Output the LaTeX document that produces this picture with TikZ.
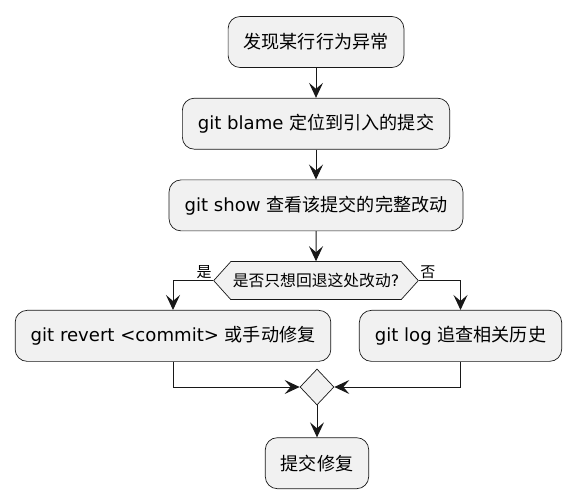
\documentclass[tikz,border=0pt]{standalone}
\usepackage{fontspec}
\setmainfont{DejaVu Sans}
\newfontfamily\cjk{Noto Sans CJK SC}
\usetikzlibrary{positioning}
\usetikzlibrary{shapes.geometric}
\usetikzlibrary{shapes.symbols}
\usetikzlibrary{arrows.meta}
\definecolor{boxfill}{HTML}{F1F1F1}
\definecolor{boxline}{HTML}{181818}

\begin{document}
\begin{tikzpicture}
[
	x								= 1pt,
	y								= -1pt,
	node distance					= 30pt,
	%
	% rounded activity boxes
	action/.style					=
	{
		draw						= boxline,
		fill						= boxfill,
		line width					= 0.7pt,
		rounded corners				= 12pt,
		minimum height				= 51pt,
		inner xsep					= 15.5pt,
		font						= \fontsize{18.1}{21}\selectfont
	},
	question/.style					=
	{
		signal,
		signal to					= west and east,
		signal pointer angle		= 96,
		draw						= boxline,
		fill						= boxfill,
		line width					= 0.7pt,
		minimum height				= 38pt,
		inner xsep					= 2pt,
		font						= \fontsize{15.8}{18}\selectfont
	},
	merge/.style					=
	{
		diamond,
		draw						= boxline,
		fill						= boxfill,
		line width					= 0.7pt,
		inner sep					= 0pt,
		minimum width				= 34pt,
		minimum height				= 36pt
	},
	branch/.style					= {font = \fontsize{15}{17}\selectfont\cjk, inner sep = 1.5pt},
	flow/.style						=
	{
		draw						= boxline,
		line width					= 1pt,
		-{Stealth[length=15pt, width=14pt, inset=6pt]}
	},
]
	\useasboundingbox (0,0) rectangle (575,502);

	\node (spot) [action] at (316,42) {{\cjk 发现某行行为异常}};
	\node (blame) [action, below = of spot] {git blame {\cjk 定位到引入的提交}};
	\node (show) [action, below = of blame] {git show {\cjk 查看该提交的完整改动}};
	\node (ask) [question, below = of show] {{\cjk 是否只想回退这处改动}?};

	\node (revert) [action, anchor = north] at (173,310) {git revert <commit> {\cjk 或手动修复}};
	\node (history) [action, anchor = north] at (460.5,310) {git log {\cjk 追查相关历史}};

	\node (join) [merge] at (317,387) {};
	\node (fix) [action, below = 32pt of join] {{\cjk 提交修复}};

	\node [branch, anchor = south east] at (ask.west) {是};
	\node [branch, anchor = south west] at (ask.east) {否};

	\draw [flow] (spot) -- (blame);
	\draw [flow] (blame) -- (show);
	\draw [flow] (show) -- (ask);
	\draw [flow] (ask.west) -| (revert.north);
	\draw [flow] (ask.east) -| (history.north);
	\draw [flow] (revert.south) |- (join.west);
	\draw [flow] (history.south) |- (join.east);
	\draw [flow] (join) -- (fix);

\end{tikzpicture}
\end{document}
